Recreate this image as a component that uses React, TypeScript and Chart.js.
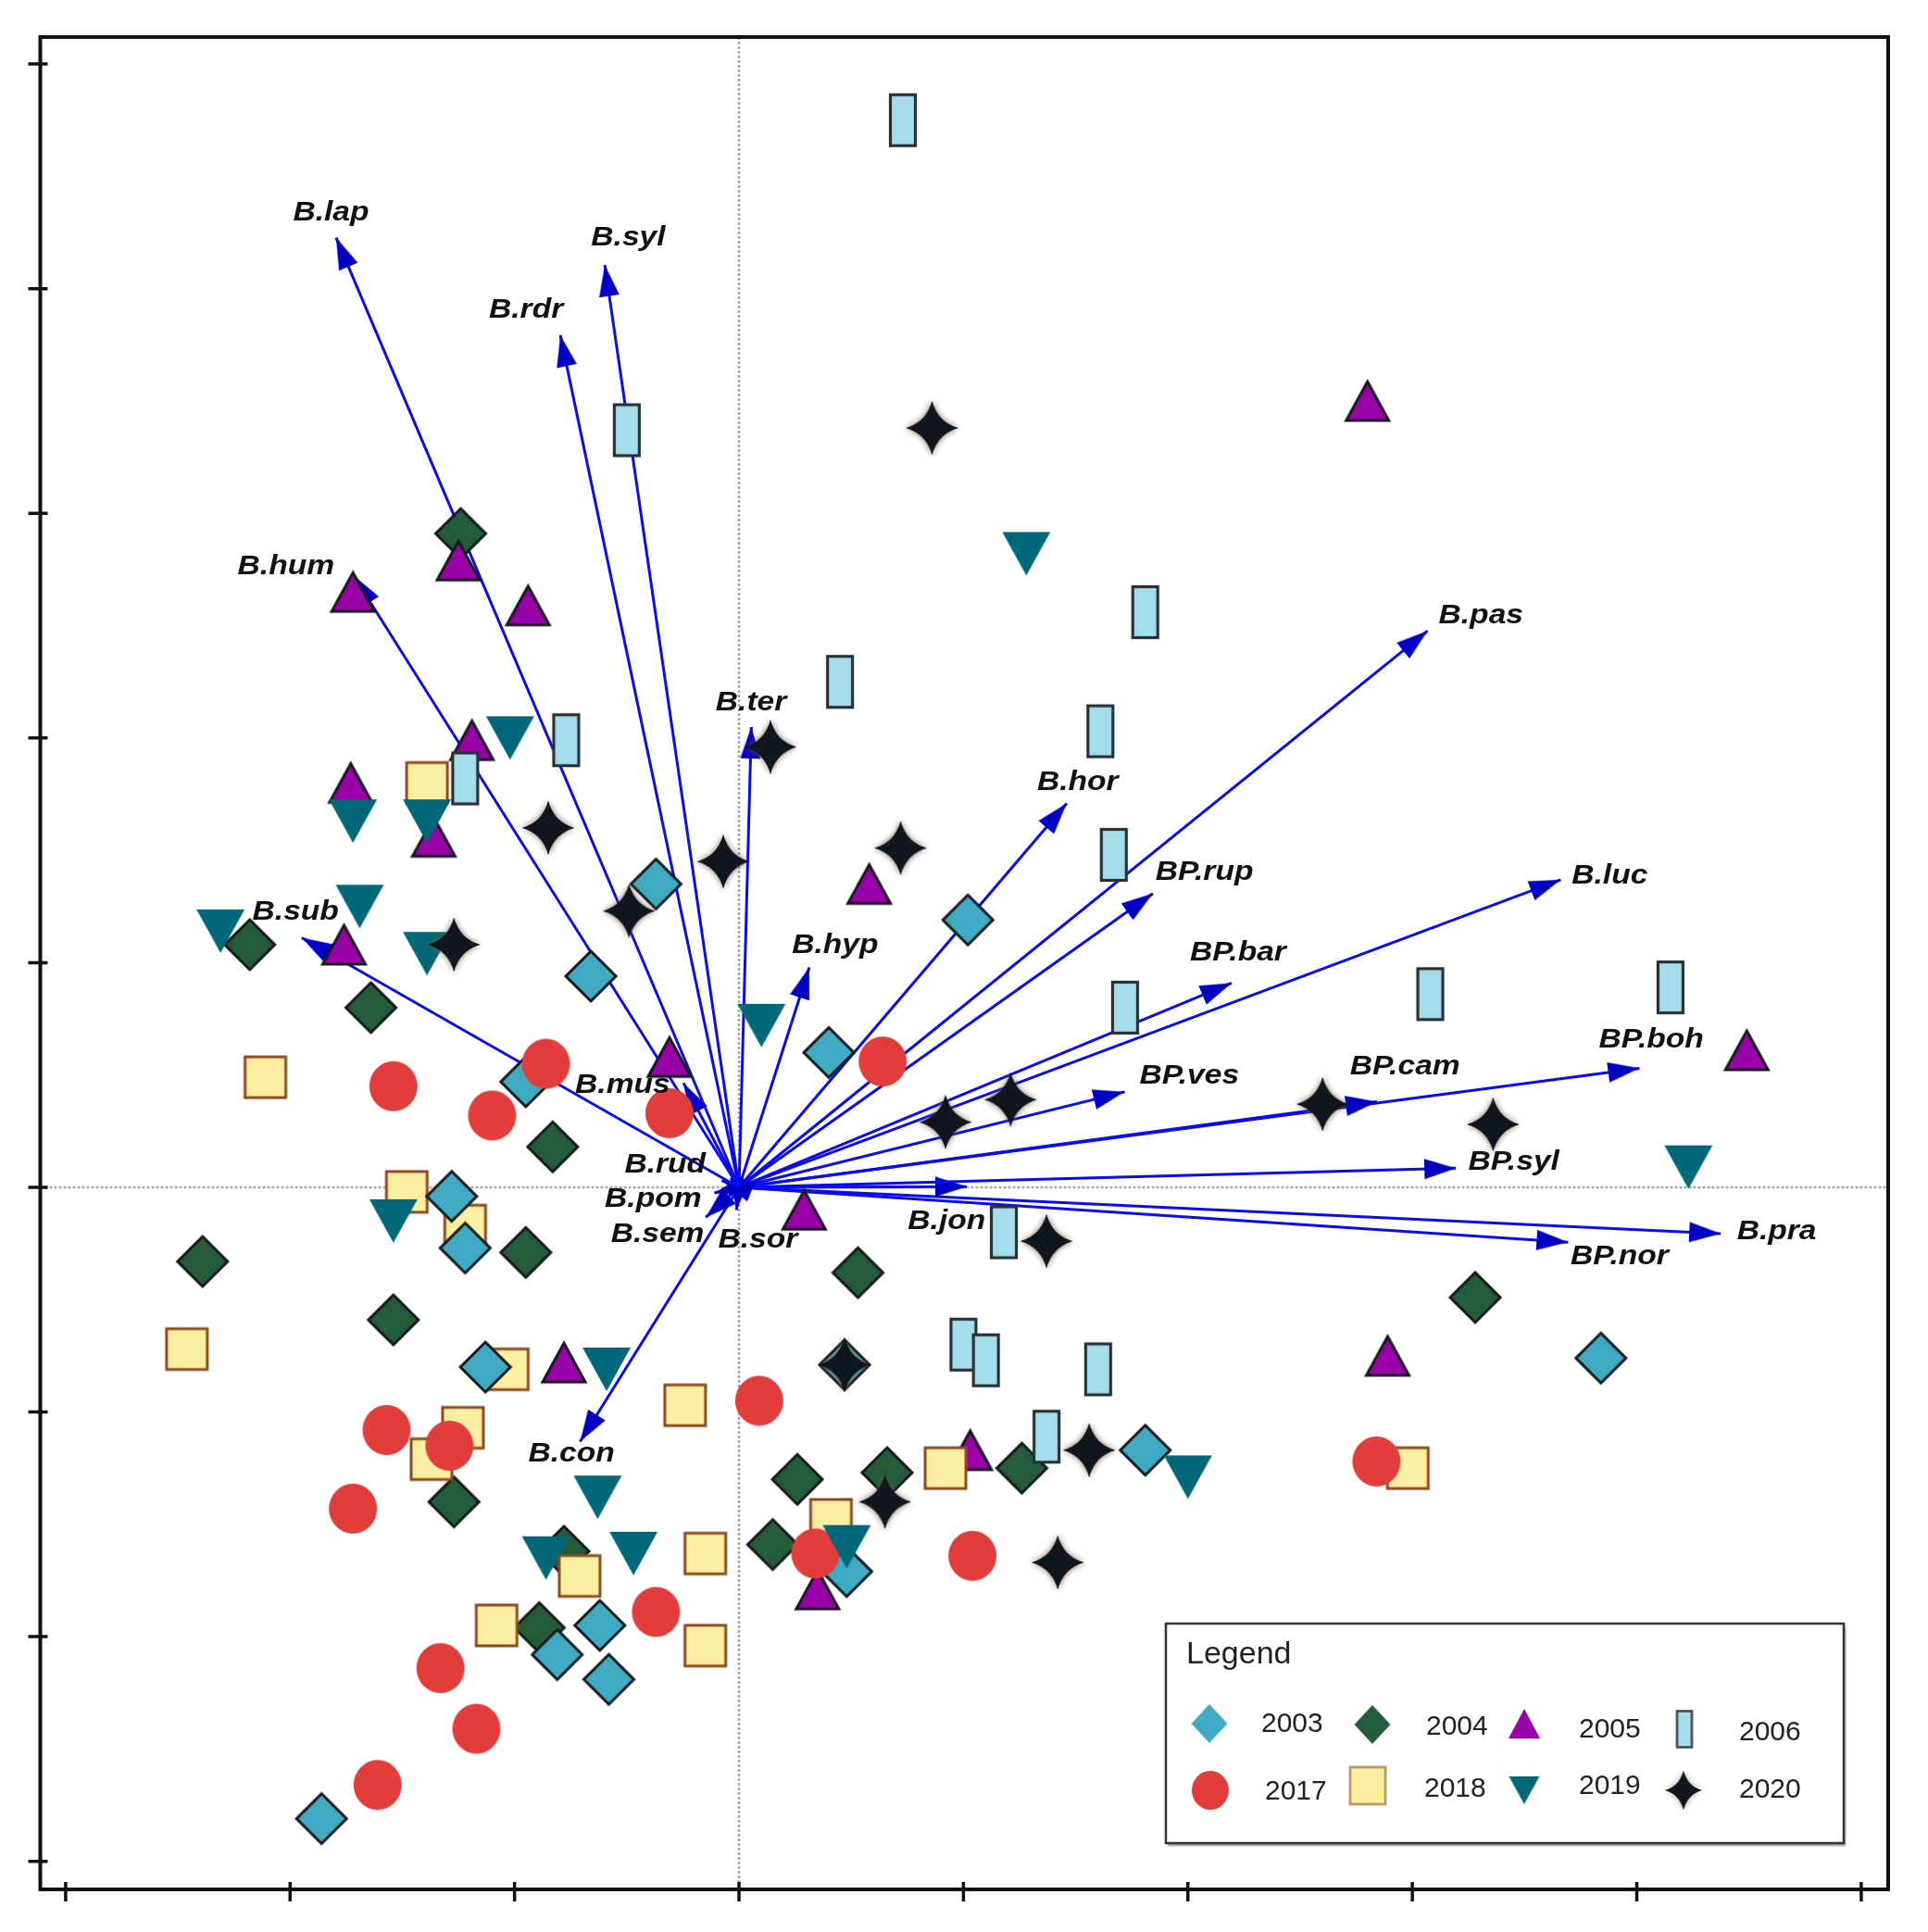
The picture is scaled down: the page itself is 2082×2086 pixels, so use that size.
import React, { useEffect, useRef } from "react";
import { Chart, registerables } from "chart.js";

Chart.register(...registerables);

const W = 2082;
const H = 2086;

// ---------- axis ticks (no labels in the original) ----------
const xTicks = [-3, -2, -1, 0, 1, 2, 3, 4, 5];
const yTicks = [-3, -2, -1, 0, 1, 2, 3, 4, 5];

// ---------- site scores per year ----------
const years = ["2003", "2004", "2005", "2006", "2017", "2018", "2019", "2020"];

const x2003 = [-0.37, -0.66, 1.02, 0.4, -0.95, -1.28, -1.22, -1.13, 0.47, 1.81, 3.84, 0.48, -0.62, -0.81, -0.58, -1.86];
const y2003 = [1.35, 0.94, 1.19, 0.6, 0.47, -0.04, -0.27, -0.8, -0.79, -1.17, -0.76, -1.71, -1.95, -2.08, -2.19, -2.81];

const x2004 = [-1.24, -2.18, -1.64, -0.83, -2.39, -0.95, -1.54, 0.53, 3.28, -1.27, -0.78, -0.89, 0.15, 0.26, 0.66, 1.26];
const y2004 = [2.91, 1.08, 0.8, 0.18, -0.33, -0.29, -0.59, -0.38, -0.49, -1.4, -1.62, -1.96, -1.59, -1.3, -1.27, -1.25];

const x2005 = [2.8, -1.25, -1.72, -0.94, -1.19, -1.73, -1.36, 0.58, -1.76, -0.31, 0.29, -0.78, 1.03, 0.35, 2.89, 4.49];
const y2005 = [3.5, 2.79, 2.65, 2.59, 1.99, 1.8, 1.56, 1.35, 1.08, 0.58, -0.1, -0.78, -1.17, -1.79, -0.75, 0.61];

const x2006 = [0.73, -0.5, 1.81, 0.45, -0.77, 1.61, -1.22, 1.67, 1.72, 3.08, 4.15, 1.18, 1.0, 1.1, 1.6, 1.37];
const y2006 = [4.75, 3.37, 2.56, 2.25, 1.99, 2.03, 1.82, 1.48, 0.8, 0.86, 0.89, -0.2, -0.7, -0.77, -0.81, -1.11];

const x2017 = [-0.86, 0.64, -1.54, -1.1, -0.31, 0.09, -1.57, -1.29, -1.72, -0.37, 0.34, 1.04, 2.84, -1.33, -1.17, -1.61];
const y2017 = [0.55, 0.56, 0.45, 0.32, 0.33, -0.95, -1.08, -1.15, -1.43, -1.89, -1.63, -1.64, -1.22, -2.14, -2.41, -2.66];

const x2018 = [-1.39, -2.11, -1.48, -1.22, -2.46, -1.03, -0.24, -1.23, -1.37, -0.71, -0.15, -1.08, -0.15, 0.41, 0.92, 2.98];
const y2018 = [1.8, 0.49, -0.02, -0.17, -0.72, -0.81, -0.97, -1.07, -1.21, -1.73, -1.63, -1.95, -2.04, -1.48, -1.25, -1.25];

const x2019 = [1.28, -1.02, -1.72, -1.39, -1.69, -2.31, -1.39, 0.1, 4.23, -1.54, -0.59, -0.63, -0.86, -0.47, 0.48, 2.0];
const y2019 = [2.82, 2.0, 1.63, 1.63, 1.25, 1.14, 1.04, 0.72, 0.09, -0.15, -0.81, -1.38, -1.65, -1.63, -1.6, -1.29];

const x2020 = [0.86, 0.14, -0.85, -0.07, 0.72, -0.49, -1.27, 0.92, 1.21, 2.6, 3.36, 1.37, 0.47, 1.56, 0.65, 1.42];
const y2020 = [3.38, 1.96, 1.6, 1.45, 1.51, 1.23, 1.08, 0.29, 0.39, 0.37, 0.28, -0.24, -0.79, -1.17, -1.4, -1.67];

// ---------- species vectors ----------
const speciesNames = [
  "B.lap", "B.syl", "B.rdr", "B.hum", "B.sub", "B.mus", "B.rud", "B.pom", "B.sem", "B.sor",
  "B.con", "B.ter", "B.hyp", "B.hor", "B.pas", "BP.rup", "B.luc", "BP.bar", "BP.ves", "BP.cam",
  "BP.boh", "BP.syl", "B.jon", "BP.nor", "B.pra",
];
const speciesX = [
  -1.795, -0.598, -0.796, -1.718, -1.948, -0.247, -0.077, -0.11, -0.148, -0.011,
  -0.708, 0.055, 0.313, 1.46, 3.068, 1.844, 3.661, 2.195, 1.718, 2.843,
  4.012, 3.194, 1.015, 3.694, 4.374,
];
const speciesY = [
  4.227, 4.106, 3.793, 2.724, 1.111, 0.464, 0.03, -0.025, -0.134, -0.101,
  -1.132, 2.049, 0.979, 1.709, 2.477, 1.308, 1.369, 0.909, 0.425, 0.381,
  0.53, 0.085, 0.003, -0.244, -0.206,
];
// label anchors (left edge, middle) in data units
const labelX = [
  -1.987, -0.659, -1.114, -2.234, -2.168, -0.73, -0.51, -0.598, -0.571, -0.093,
  -0.939, -0.104, 0.236, 1.328, 3.117, 1.855, 3.71, 2.009, 1.784, 2.722,
  3.831, 3.249, 0.752, 3.705, 4.446,
];
const labelY = [
  4.336, 4.226, 3.903, 2.762, 1.226, 0.453, 0.101, -0.052, -0.211, -0.233,
  -1.188, 2.159, 1.078, 1.802, 2.543, 1.402, 1.385, 1.045, 0.496, 0.535,
  0.656, 0.113, -0.151, -0.31, -0.195,
];

// ---------- marker images ----------
function canvasOf(w: number, h: number, paint: (c: CanvasRenderingContext2D, w: number, h: number) => void) {
  const cv = document.createElement("canvas");
  cv.width = w;
  cv.height = h;
  const c = cv.getContext("2d") as CanvasRenderingContext2D;
  paint(c, w, h);
  return cv;
}

function diamondImg(hw: number, hh: number, fill: string, stroke: string, lw: number) {
  const w = Math.ceil(2 * hw + lw * 2 + 4);
  const h = Math.ceil(2 * hh + lw * 2 + 4);
  return canvasOf(w, h, (c) => {
    const cx = w / 2, cy = h / 2;
    c.beginPath();
    c.moveTo(cx, cy - hh);
    c.lineTo(cx + hw, cy);
    c.lineTo(cx, cy + hh);
    c.lineTo(cx - hw, cy);
    c.closePath();
    c.fillStyle = fill;
    c.fill();
    if (lw > 0) {
      c.lineJoin = "miter";
      c.lineWidth = lw;
      c.strokeStyle = stroke;
      c.stroke();
    }
  });
}

function triangleImg(tw: number, th: number, up: boolean, fill: string, stroke: string, lw: number) {
  const w = Math.ceil(tw + lw * 2 + 6);
  const h = Math.ceil(th + lw * 2 + 6);
  return canvasOf(w, h, (c) => {
    const cx = w / 2, cy = h / 2;
    c.beginPath();
    if (up) {
      c.moveTo(cx, cy - th / 2);
      c.lineTo(cx + tw / 2, cy + th / 2);
      c.lineTo(cx - tw / 2, cy + th / 2);
    } else {
      c.moveTo(cx - tw / 2, cy - th / 2);
      c.lineTo(cx + tw / 2, cy - th / 2);
      c.lineTo(cx, cy + th / 2);
    }
    c.closePath();
    c.fillStyle = fill;
    c.fill();
    if (lw > 0) {
      c.lineJoin = "miter";
      c.lineWidth = lw;
      c.strokeStyle = stroke;
      c.stroke();
    }
  });
}

function rectImg(rw: number, rh: number, fill: string, stroke: string, lw: number) {
  const w = Math.ceil(rw + lw * 2 + 4);
  const h = Math.ceil(rh + lw * 2 + 4);
  return canvasOf(w, h, (c) => {
    const x0 = (w - rw) / 2, y0 = (h - rh) / 2;
    c.fillStyle = fill;
    c.fillRect(x0, y0, rw, rh);
    if (lw > 0) {
      c.lineWidth = lw;
      c.strokeStyle = stroke;
      c.strokeRect(x0, y0, rw, rh);
    }
  });
}

function ellipseImg(rx: number, ry: number, fill: string) {
  const w = Math.ceil(2 * rx + 4);
  const h = Math.ceil(2 * ry + 4);
  return canvasOf(w, h, (c) => {
    c.beginPath();
    c.ellipse(w / 2, h / 2, rx, ry, 0, 0, Math.PI * 2);
    c.fillStyle = fill;
    c.fill();
  });
}

function starImg(rx: number, ry: number, inner: number, fill: string, glow: string) {
  const w = Math.ceil(2 * rx + 16);
  const h = Math.ceil(2 * ry + 16);
  return canvasOf(w, h, (c) => {
    const cx = w / 2, cy = h / 2;
    const k = inner * 0.62;
    const path = () => {
      c.beginPath();
      c.moveTo(cx, cy - ry);
      c.quadraticCurveTo(cx + k, cy - k, cx + rx, cy);
      c.quadraticCurveTo(cx + k, cy + k, cx, cy + ry);
      c.quadraticCurveTo(cx - k, cy + k, cx - rx, cy);
      c.quadraticCurveTo(cx - k, cy - k, cx, cy - ry);
      c.closePath();
    };
    c.save();
    c.shadowColor = glow;
    c.shadowBlur = 7;
    path();
    c.fillStyle = fill;
    c.fill();
    c.restore();
    path();
    c.fillStyle = fill;
    c.fill();
  });
}

function arrowHeadImg(len: number, width: number, fill: string) {
  const w = Math.ceil(width + 4);
  const h = Math.ceil(len * 2 + 4);
  return canvasOf(w, h, (c) => {
    const cx = w / 2, cy = h / 2;
    c.beginPath();
    c.moveTo(cx, cy);
    c.lineTo(cx + width / 2, cy + len);
    c.lineTo(cx - width / 2, cy + len);
    c.closePath();
    c.fillStyle = fill;
    c.fill();
  });
}

const ARROW_LINE = "#0b0bf2";
const ARROW_HEAD = "#0000c4";

export default function App() {
  const ref = useRef<HTMLCanvasElement | null>(null);

  useEffect(() => {
    const cv = ref.current;
    if (!cv) return;

    const plotImgs = [
      diamondImg(27, 27, "#41aac3", "#161a1e", 3),
      diamondImg(27, 27, "#245b39", "#161a1e", 3),
      triangleImg(46, 42, true, "#9a00a8", "#161a1e", 3),
      rectImg(27, 55, "#a4deea", "#2a3136", 3.2),
      ellipseImg(26, 27, "#e23d3b"),
      rectImg(44, 44, "#fcefa2", "#8e4a1e", 3),
      triangleImg(52, 47, false, "#006879", "", 0),
      starImg(28, 29, 10, "#10161e", "rgba(120,95,60,0.95)"),
    ];
    const legendImgs = [
      diamondImg(19.5, 21, "#41aac3", "", 0),
      diamondImg(19.5, 21, "#245b39", "", 0),
      triangleImg(34, 32, true, "#9a00a8", "", 0),
      rectImg(16, 39, "#a4deea", "#3a4248", 2.5),
      ellipseImg(20, 21, "#e23d3b"),
      rectImg(38, 40, "#fcefa2", "#b98a55", 2.5),
      triangleImg(33, 30, false, "#006879", "", 0),
      starImg(19.5, 21, 7, "#10161e", "rgba(120,95,60,0.6)"),
    ];
    const head = arrowHeadImg(34, 22, ARROW_HEAD);

    const seriesX = [x2003, x2004, x2005, x2006, x2017, x2018, x2019, x2020];
    const seriesY = [y2003, y2004, y2005, y2006, y2017, y2018, y2019, y2020];
    // higher order drawn first (below)
    const drawOrder = [5, 8, 7, 2, 4, 6, 3, 1];

    const datasets: any[] = [];
    speciesNames.forEach((name, i) => {
      datasets.push({
        label: name,
        data: [
          { x: 0, y: 0 },
          { x: speciesX[i], y: speciesY[i] },
        ],
        showLine: true,
        borderColor: ARROW_LINE,
        borderWidth: 3,
        fill: false,
        tension: 0,
        pointStyle: head,
        pointRadius: [0, 3],
        pointRotation: (c: any) => {
          const xs = c.chart.scales.x;
          const ys = c.chart.scales.y;
          const d = c.dataset.data[1];
          const dx = xs.getPixelForValue(d.x) - xs.getPixelForValue(0);
          const dy = ys.getPixelForValue(d.y) - ys.getPixelForValue(0);
          return (Math.atan2(dx, -dy) * 180) / Math.PI;
        },
        order: 100,
      });
    });
    years.forEach((yr, k) => {
      datasets.push({
        label: yr,
        data: seriesX[k].map((v, i) => ({ x: v, y: seriesY[k][i] })),
        showLine: false,
        pointStyle: plotImgs[k],
        pointRadius: 10,
        order: drawOrder[k],
      });
    });

    const decor = {
      id: "decor",
      beforeDatasetsDraw(chart: any) {
        const { ctx, chartArea: a, scales } = chart;
        const x0 = scales.x.getPixelForValue(0);
        const y0 = scales.y.getPixelForValue(0);
        ctx.save();
        ctx.strokeStyle = "#a9a9a9";
        ctx.lineWidth = 2.5;
        ctx.setLineDash([3, 2]);
        ctx.beginPath();
        ctx.moveTo(x0, a.top);
        ctx.lineTo(x0, a.bottom);
        ctx.moveTo(a.left, y0);
        ctx.lineTo(a.right, y0);
        ctx.stroke();
        ctx.restore();
      },
      afterDatasetsDraw(chart: any) {
        const { ctx, scales } = chart;
        ctx.save();
        ctx.font = 'italic bold 30px "Liberation Sans", Arial, sans-serif';
        ctx.fillStyle = "#111111";
        ctx.textBaseline = "middle";
        ctx.textAlign = "left";
        speciesNames.forEach((n, i) => {
          const px = scales.x.getPixelForValue(labelX[i]);
          const py = scales.y.getPixelForValue(labelY[i]);
          ctx.save();
          ctx.translate(px, py);
          ctx.scale(1.12, 1);
          ctx.fillText(n, 0, 0);
          ctx.restore();
        });
        ctx.restore();
      },
      afterDraw(chart: any) {
        const { ctx, chartArea: a, scales } = chart;
        ctx.save();
        // frame
        ctx.strokeStyle = "#111111";
        ctx.lineWidth = 4;
        ctx.strokeRect(a.left, a.top, a.right - a.left, a.bottom - a.top);
        // ticks
        ctx.lineWidth = 3.5;
        ctx.beginPath();
        yTicks.forEach((t) => {
          const py = scales.y.getPixelForValue(t);
          ctx.moveTo(a.left - 13, py);
          ctx.lineTo(a.left + 8, py);
        });
        xTicks.forEach((t) => {
          const px = scales.x.getPixelForValue(t);
          ctx.moveTo(px, a.bottom - 8);
          ctx.lineTo(px, a.bottom + 13);
        });
        ctx.stroke();

        // legend box
        const L = 1259, T = 1753, R = 1991, B = 1990;
        ctx.save();
        ctx.shadowColor = "rgba(0,0,0,0.45)";
        ctx.shadowOffsetX = 2;
        ctx.shadowOffsetY = 3;
        ctx.shadowBlur = 2;
        ctx.fillStyle = "#ffffff";
        ctx.fillRect(L, T, R - L, B - T);
        ctx.restore();
        ctx.strokeStyle = "#333333";
        ctx.lineWidth = 2.5;
        ctx.strokeRect(L, T, R - L, B - T);

        ctx.fillStyle = "#222222";
        ctx.textBaseline = "middle";
        ctx.textAlign = "left";
        ctx.font = '34px "Liberation Sans", Arial, sans-serif';
        ctx.fillText("Legend", L + 22, T + 34);

        const markerPos = [
          [47, 108], [223, 109], [387, 108], [560, 114],
          [48, 180], [218, 175], [387, 180], [559, 180],
        ];
        const textPos = [
          [103, 109], [281, 112], [446, 115], [619, 118],
          [107, 182], [279, 179], [446, 176], [619, 180],
        ];
        ctx.font = '30px "Liberation Sans", Arial, sans-serif';
        years.forEach((yr, k) => {
          const img = legendImgs[k];
          const mx = L + markerPos[k][0];
          const my = T + markerPos[k][1];
          ctx.drawImage(img, mx - img.width / 2, my - img.height / 2);
          ctx.fillText(yr, L + textPos[k][0], T + textPos[k][1]);
        });
        ctx.restore();
      },
    };

    const chart = new Chart(cv, {
      type: "scatter",
      data: { datasets },
      options: {
        responsive: false,
        maintainAspectRatio: false,
        animation: false,
        devicePixelRatio: 1,
        events: [],
        layout: { padding: { left: 43.5, top: 40, right: W - 2039, bottom: H - 2040 } },
        scales: {
          x: { type: "linear", min: -3.113, max: 5.12, display: false },
          y: { type: "linear", min: -3.125, max: 5.12, display: false },
        },
        plugins: {
          legend: { display: false },
          tooltip: { enabled: false },
        },
      },
      plugins: [decor],
    } as any);

    return () => {
      chart.destroy();
    };
  }, []);

  return (
    <div style={{ position: "absolute", left: 0, top: 0, width: W, height: H, background: "#ffffff" }}>
      <canvas ref={ref} width={W} height={H} style={{ display: "block", width: W, height: H }} />
    </div>
  );
}
